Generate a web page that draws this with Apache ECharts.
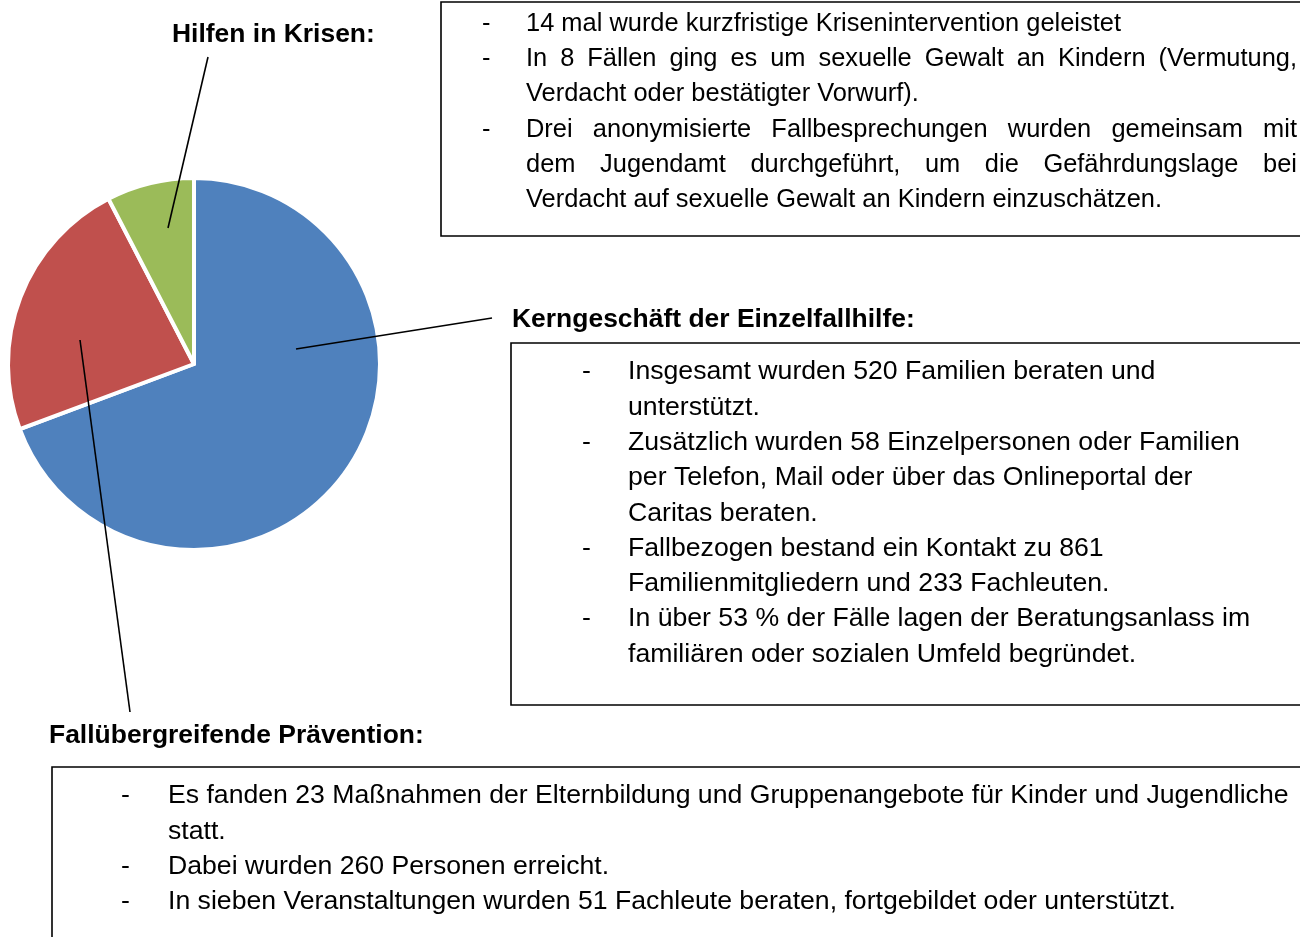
<!DOCTYPE html>
<html>
<head>
<meta charset="utf-8">
<script src="https://cdn.jsdelivr.net/npm/echarts@6/dist/echarts.min.js"></script>
<style>
  html, body { margin: 0; padding: 0; background: #fff; }
  #chart { width: 1300px; height: 937px; }
</style>
</head>
<body>
<div id="chart"></div>
<script>
// slice data, clockwise from 12 o'clock
const sliceNames = ['Kerngeschäft der Einzelfallhilfe', 'Fallübergreifende Prävention', 'Hilfen in Krisen'];
const sliceValues = [69.3, 23.1, 7.6];
const sliceColors = ['#4F81BD', '#C0504D', '#9BBB59'];

// headings shown next to the pie
const titleKrisen = 'Hilfen in Krisen:';
const titleKern = 'Kerngeschäft der Einzelfallhilfe:';
const titlePraevention = 'Fallübergreifende Prävention:';

// text box lines: [bullet?, text, justify?]
const krisenLines = [
    [true, '14 mal wurde kurzfristige Krisenintervention geleistet', false],
    [true, 'In 8 Fällen ging es um sexuelle Gewalt an Kindern (Vermutung,', true],
    [false, 'Verdacht oder bestätigter Vorwurf).', false],
    [true, 'Drei anonymisierte Fallbesprechungen wurden gemeinsam mit', true],
    [false, 'dem Jugendamt durchgeführt, um die Gefährdungslage bei', true],
    [false, 'Verdacht auf sexuelle Gewalt an Kindern einzuschätzen.', false]
];
const kernLines = [
    [true, 'Insgesamt wurden 520 Familien beraten und'],
    [false, 'unterstützt.'],
    [true, 'Zusätzlich wurden 58 Einzelpersonen oder Familien'],
    [false, 'per Telefon, Mail oder über das Onlineportal der'],
    [false, 'Caritas beraten.'],
    [true, 'Fallbezogen bestand ein Kontakt zu 861'],
    [false, 'Familienmitgliedern und 233 Fachleuten.'],
    [true, 'In über 53 % der Fälle lagen der Beratungsanlass im'],
    [false, 'familiären oder sozialen Umfeld begründet.']
];
const praeventionLines = [
    [true, 'Es fanden 23 Maßnahmen der Elternbildung und Gruppenangebote für Kinder und Jugendliche'],
    [false, 'statt.'],
    [true, 'Dabei wurden 260 Personen erreicht.'],
    [true, 'In sieben Veranstaltungen wurden 51 Fachleute beraten, fortgebildet oder unterstützt.']
];

const FONT = '25px "Liberation Sans", Arial, sans-serif';
const BOLD = 'bold 25px "Liberation Sans", Arial, sans-serif';
const LINE_H = 35.3;

const measure = document.createElement('canvas').getContext('2d');
measure.font = FONT;

// text with a horizontal stretch so widths follow the picture
function textEl (str, x, y, sx, font) {
    return {
        type: 'text',
        x: x,
        y: y,
        scaleX: sx || 1,
        style: { text: str, x: 0, y: 0, font: font || FONT, fill: '#000', verticalAlign: 'middle' }
    };
}

// one text block with bullets, optional justification up to rightX
function buildBlock (lines, bulletX, textX, firstY, sx, rightX) {
    let els = [];
    lines.forEach(function (l, i) {
        const y = firstY + i * LINE_H;
        if (l[0]) els.push(textEl('-', bulletX, y, sx));
        if (l[2]) {
            const words = l[1].split(' ');
            const widths = words.map(function (w) { return measure.measureText(w).width * sx; });
            const total = widths.reduce(function (a, b) { return a + b; }, 0);
            const gap = (rightX - textX - total) / (words.length - 1);
            let x = textX;
            words.forEach(function (w, k) {
                els.push(textEl(w, x, y, sx));
                x += widths[k] + gap;
            });
        } else {
            els.push(textEl(l[1], textX, y, sx));
        }
    });
    return els;
}

function boxEl (x, y, w, h) {
    return {
        type: 'rect',
        shape: { x: x, y: y, width: w, height: h },
        style: { fill: 'none', stroke: '#000', lineWidth: 1.6 }
    };
}

function leader (x1, y1, x2, y2) {
    return {
        type: 'line',
        z: 10,
        shape: { x1: x1, y1: y1, x2: x2, y2: y2 },
        style: { stroke: '#000', lineWidth: 1.6 }
    };
}

let myChart = echarts.init(document.getElementById('chart'));

let graphics = [
    boxEl(441, 2, 900, 234),
    boxEl(511, 343, 900, 362),
    boxEl(52, 767, 1300, 300),
    textEl(titleKrisen, 172, 35, 1.058, BOLD),
    textEl(titleKern, 512, 320, 1.058, BOLD),
    textEl(titlePraevention, 49, 736, 1.058, BOLD),
    leader(168, 228, 208, 57),
    leader(296, 349, 492, 318),
    leader(80, 340, 130, 712)
]
    .concat(buildBlock(krisenLines, 482, 526, 24, 1.017, 1297))
    .concat(buildBlock(kernLines, 582, 628, 372.5, 1.066))
    .concat(buildBlock(praeventionLines, 121, 168, 796.5, 1.065));

let option = {
    animation: false,
    backgroundColor: '#fff',
    series: [
        {
            type: 'pie',
            center: [194, 364],
            radius: 186,
            startAngle: 90,
            clockwise: true,
            silent: true,
            color: sliceColors,
            label: { show: false },
            labelLine: { show: false },
            itemStyle: { borderColor: '#fff', borderWidth: 4 },
            data: sliceNames.map(function (n, i) {
                return { name: n, value: sliceValues[i] };
            })
        }
    ],
    graphic: { elements: graphics }
};
myChart.setOption(option);
</script>
</body>
</html>
